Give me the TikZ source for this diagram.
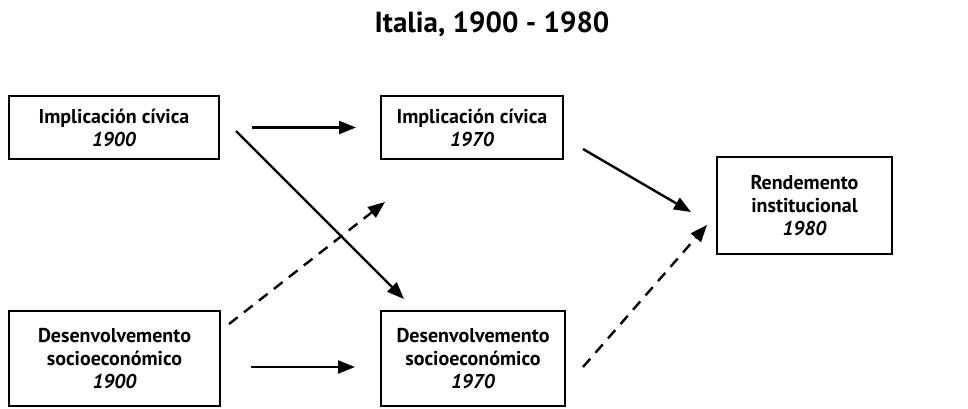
\documentclass[tikz,border=0pt]{standalone}
\usepackage{fontspec}
\setmainfont{PT Sans}
\usetikzlibrary{arrows.meta}
\newcommand{\yr}[1]{\textit{#1}}
\tikzset{
    box/.style={draw, rectangle, line width=2pt, align=center, inner sep=0pt,
        font=\fontsize{20}{23}\selectfont\bfseries},
    upper/.style={box, minimum height=63pt},
    lower/.style={box, minimum height=95pt},
    arr/.style={-{Triangle[length=17pt,width=13pt]}, line width=2.4pt},
    dasharr/.style={arr, dash pattern=on 11pt off 8pt},
    heading/.style={font=\fontsize{29}{34}\selectfont\bfseries}
}
\begin{document}
\begin{tikzpicture}[x=1pt,y=-1pt]
    \useasboundingbox (0,0) rectangle (968,408);

    \node[heading] (title) at (492,24) {Italia, 1900 - 1980};

    \node[upper, minimum width=210pt] (ic1900) at (114,127.5) {Implicación cívica\\\yr{1900}};
    \node[upper, minimum width=182pt] (ic1970) at (472,127.5) {Implicación cívica\\\yr{1970}};
    \node[lower, minimum width=211pt] (ds1900) at (114.5,358.5) {Desenvolvemento\\socioeconómico\\\yr{1900}};
    \node[lower, minimum width=184pt] (ds1970) at (473,358.5) {Desenvolvemento\\socioeconómico\\\yr{1970}};
    \node[box, minimum width=175pt, minimum height=97pt] (rend1980) at (804.5,205.5) {Rendemento\\institucional\\\yr{1980}};

    % free ends of the slanted arrows
    \coordinate (ic-ds-a) at (236,131);
    \coordinate (ic-ds-b) at (404,299);
    \coordinate (ds-ic-a) at (229,324);
    \coordinate (ds-ic-b) at (385,202);
    \coordinate (ic-r-a) at (583,149);
    \coordinate (ic-r-b) at (691,212);
    \coordinate (ds-r-a) at (583,367);
    \coordinate (ds-r-b) at (707,225);

    \draw[arr, shorten <=32pt, shorten >=24pt] (ic1900) -- (ic1970);
    \draw[arr, shorten <=30pt, shorten >=25pt] (ds1900.east |- 0,367) -- (ds1970.west |- 0,367);
    \draw[arr] (ic-ds-a) -- (ic-ds-b);
    \draw[dasharr] (ds-ic-a) -- (ds-ic-b);
    \draw[arr] (ic-r-a) -- (ic-r-b);
    \draw[dasharr] (ds-r-a) -- (ds-r-b);
\end{tikzpicture}
\end{document}
